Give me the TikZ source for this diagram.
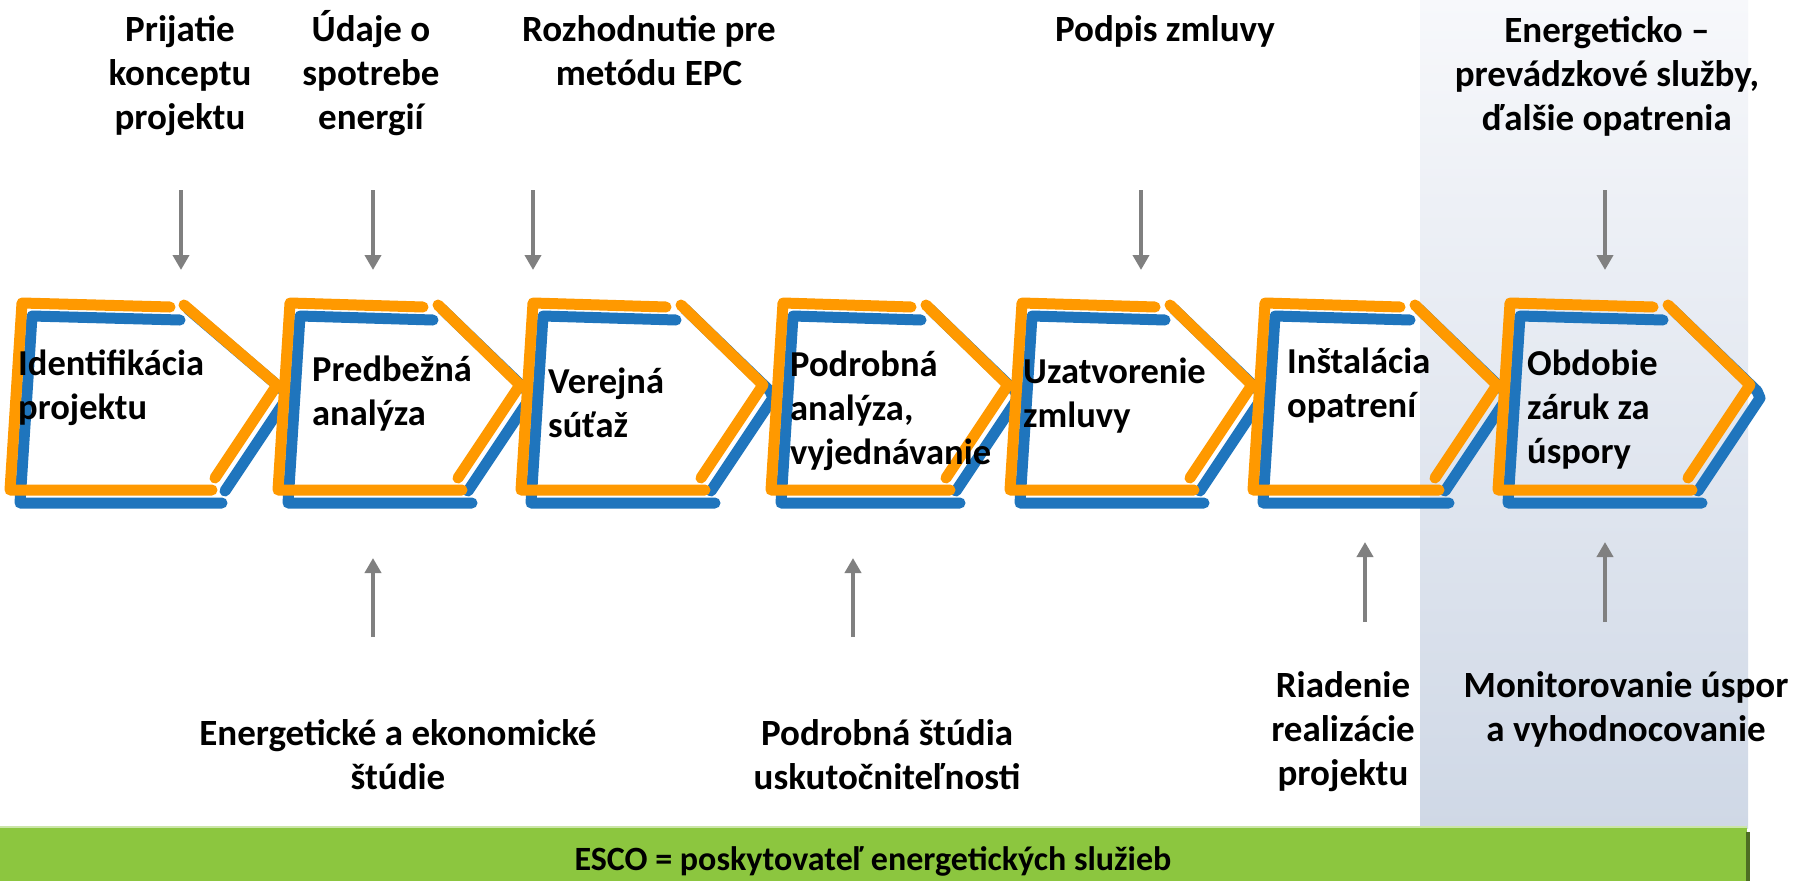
\documentclass[tikz,border=0pt]{standalone}
\usepackage{fontspec}
\setmainfont{Carlito}
\usetikzlibrary{arrows.meta}
\definecolor{chorange}{RGB}{255,153,0}
\definecolor{chblue}{RGB}{31,117,189}
\definecolor{arrgray}{RGB}{128,128,128}
\definecolor{escogreen}{RGB}{140,198,63}
\definecolor{panelTop}{RGB}{247,248,251}
\definecolor{panelBot}{RGB}{207,216,230}
\begin{document}
\begin{tikzpicture}[x=1pt,y=-1pt,
  lbl/.style={font=\fontsize{37}{44}\selectfont\bfseries, align=center, inner sep=0pt, anchor=base},
  boxtxt/.style={font=\fontsize{36.5}{44}\selectfont\bfseries, align=left, inner sep=0pt, anchor=base west},
  conn/.style={draw=arrgray, line width=4pt, -{Triangle[length=15pt,width=16pt]}},
  ostroke/.style={draw=chorange, line width=11pt, line cap=round, line join=round},
  bstroke/.style={draw=chblue, line width=11pt, line cap=round, line join=round}
]
\useasboundingbox (0,0) rectangle (1796,881);
\fill[white] (0,0) rectangle (1796,881);
% shaded panel
\shade[top color=panelTop, bottom color=panelBot] (1420,0) rectangle (1748,828);
% green bar
\fill[escogreen] (0,828) rectangle (1747,881);
\draw[escogreen!45!white, line width=2pt] (0,827) -- (1747,827);
\fill[escogreen!55!black] (1746,832) rectangle (1750,881);
\node[lbl, font=\fontsize{34}{40}\selectfont\bfseries] (esco) at (873,870) {ESCO = poskytovateľ energetických služieb};
% chevrons: left x, tip x, end of top stroke, start of diagonal, end of bottom stroke
\foreach \L/\T/\A/\B/\C in {22/277/170/184/212, 290/520/423/438/462, 533/763/666/681/705, 783/1008/911/926/950, 1022/1252/1155/1170/1194, 1265/1497/1400/1415/1439, 1510/1750/1653/1668/1692}{
  \draw[bstroke] (\A+10,320) -- (\L+10,316) -- (\L-2,503) -- (\C+10,503);
  \draw[bstroke] (\B+4,309) -- (\T+7,391) -- (\T+10,398) -- (\T-52,491);
  \draw[ostroke] (\A,307) -- (\L,303) -- (\L-12,490) -- (\C,490);
  \draw[ostroke] (\B,305) -- (\T,385) -- (\T-62,478);
}
% box texts (anchored at the baseline of the last line)
\node[boxtxt] (t1) at (18,419) {Identifikácia\\projektu};
\node[boxtxt] (t2) at (312,425) {Predbežná\\analýza};
\node[boxtxt] (t3) at (548,437) {Verejná\\súťaž};
\node[boxtxt] (t4) at (790,464) {Podrobná\\analýza,\\vyjednávanie};
\node[boxtxt] (t5) at (1023,427) {Uzatvorenie\\zmluvy};
\node[boxtxt] (t6) at (1287,417) {Inštalácia\\opatrení};
\node[boxtxt] (t7) at (1527,463) {Obdobie\\záruk za\\úspory};
% top labels
\node[lbl] (l1) at (180,129) {Prijatie\\konceptu\\projektu};
\node[lbl] (l2) at (371,129) {Údaje o\\spotrebe\\energií};
\node[lbl] (l3) at (649,85) {Rozhodnutie pre\\metódu EPC};
\node[lbl] (l4) at (1165,41) {Podpis zmluvy};
\node[lbl] (l5) at (1607,130) {Energeticko –\\prevádzkové služby,\\ďalšie opatrenia};
% bottom labels
\node[lbl] (b1) at (398,789) {Energetické a ekonomické\\štúdie};
\node[lbl] (b2) at (887,789) {Podrobná štúdia\\uskutočniteľnosti};
\node[lbl] (b3) at (1343,785) {Riadenie\\realizácie\\projektu};
\node[lbl] (b4) at (1626,741) {Monitorovanie úspor\\a vyhodnocovanie};
% arrows
\foreach \n/\x in {1/181, 2/373, 3/533, 4/1141, 5/1605}{
  \coordinate (d\n s) at (\x,190);
  \coordinate (d\n e) at (\x,270);
  \draw[conn] (d\n s) -- (d\n e);
}
\foreach \n/\x/\ys/\ye in {1/373/637/558, 2/853/637/558, 3/1365/622/542, 4/1605/622/542}{
  \coordinate (u\n s) at (\x,\ys);
  \coordinate (u\n e) at (\x,\ye);
  \draw[conn] (u\n s) -- (u\n e);
}
\end{tikzpicture}
\end{document}
